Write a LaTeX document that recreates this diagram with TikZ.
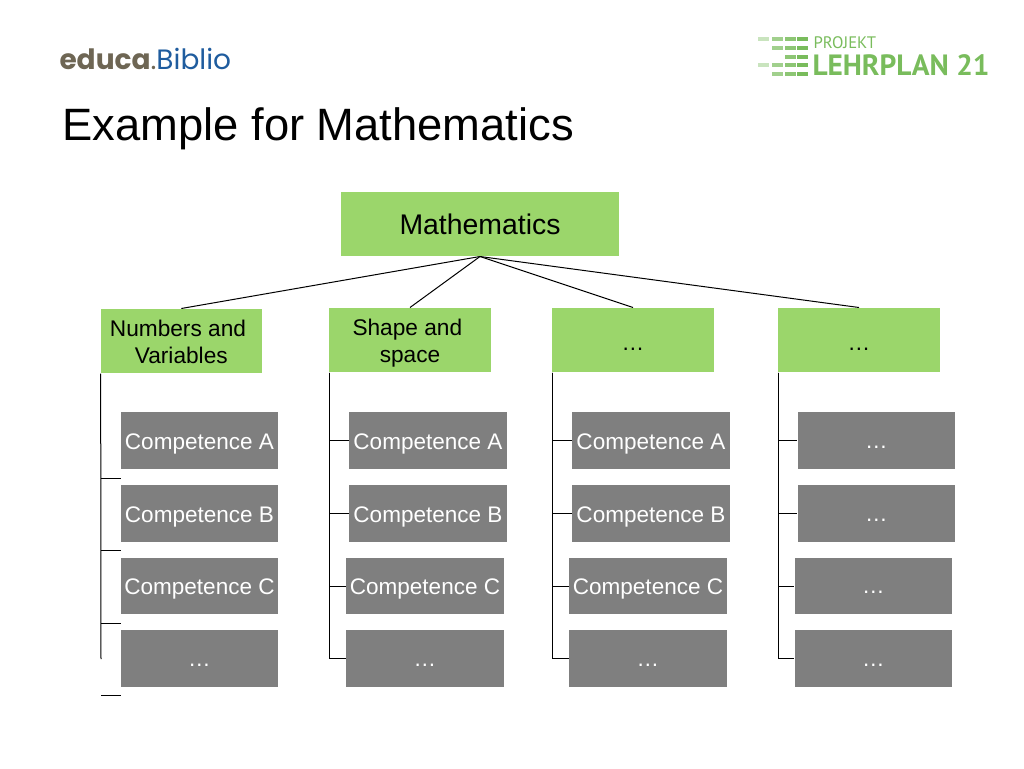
\documentclass[tikz,border=0pt]{standalone}
\usepackage{fontspec}
\setmainfont{Liberation Sans}
\newfontfamily\educafont{Poppins}
\newfontfamily\planfont{PT Sans}
\usepackage{xcolor}
\usetikzlibrary{positioning}
\definecolor{topicgreen}{HTML}{9BD66B}
\definecolor{compgray}{HTML}{7F7F7F}
\definecolor{logogreen}{HTML}{79BC5C}
\definecolor{logobrown}{HTML}{6E6654}
\definecolor{logoblue}{HTML}{1F5C9E}
\newcommand{\lowdots}[1]{\raisebox{-#1}[0pt][0pt]{…}}

\begin{document}
\begin{tikzpicture}[
		x=0.75pt,y=-0.75pt,
		line width=0.75pt,
		topic/.style={fill=topicgreen,minimum width=121pt,minimum height=48pt,inner sep=0pt,align=center,font=\fontsize{17}{20.2}\selectfont},
		comp/.style={fill=compgray,text=white,minimum width=118pt,minimum height=42.5pt,inner sep=0pt,text height=14pt,text depth=0.9pt,font=\fontsize{16.9}{20}\selectfont},
		compdots/.style={comp,text height=0pt,text depth=0pt},
		bar/.style={fill=logogreen,minimum width=8.3pt,minimum height=3pt,inner sep=0pt}
		]
		\useasboundingbox (0,0) rectangle (1024,768);

		% header
		\node[anchor=west,inner sep=0pt,font=\fontsize{34}{40}\selectfont] (title) at (62,129) {Example for Mathematics};
		\node[anchor=west,inner sep=0pt,font=\educafont\fontsize{21}{24}\selectfont,text=logobrown] (educa) at (59,59) {\textbf{educa}.\textcolor{logoblue}{Biblio}};
		\foreach \r/\y/\cols in {a/39/1,b/48/2,c/56.5/3,d/65/1,e/74/2}{
			\foreach \c/\x/\o in {1/763.5/0.4,2/777.5/0.7,3/790.5/0.85,4/802.5/1}{
				\ifnum\c<\cols\relax\else
					\node[bar,fill opacity=\o] (bar\r\c) at (\x,\y) {};
				\fi
			}
		}
		\node[anchor=west,inner sep=0pt,text=logogreen,font=\planfont\fontsize{12.5}{14}\selectfont] (projekt) at (813,43) {PROJEKT};
		\node[anchor=west,inner sep=0pt,text=logogreen,font=\planfont\bfseries\fontsize{22}{24}\selectfont] (lehrplan) at (812,65) {LEHRPLAN 21};

		% topics
		\node[topic,minimum width=208.5pt] (math) at (480,224) {\fontsize{21.3}{24}\selectfont Mathematics};
		\node[topic] (numbers) at (181.3,341) {\rule{0pt}{16.7pt}\hspace*{-5pt}Numbers and\\Variables\vphantom{p}};
		\node[topic] (shape) at (410,340) {\rule{0pt}{16.7pt}\hspace*{-4pt}Shape and\\space};
		\node[topic] (dotsa) at (633,340) {\lowdots{7.75pt}};
		\node[topic] (dotsb) at (859,340) {\lowdots{7.75pt}};

		% competences
		\node[comp] (na) at (199.5,440.5) {Competence A};
		\node[comp] (nb) at (199.5,513.5) {Competence B};
		\node[comp] (nc) at (199.5,586) {Competence C};
		\node[compdots] (nd) at (199.5,658.5) {\lowdots{5.85pt}};
		\node[comp] (sa) at (428,440.5) {Competence A};
		\node[comp] (sb) at (428,513.5) {Competence B};
		\node[comp] (sc) at (425,586) {Competence C};
		\node[compdots] (sd) at (425,658.5) {\lowdots{5.85pt}};
		\node[comp] (ta) at (651,440.5) {Competence A};
		\node[comp] (tb) at (651,513.5) {Competence B};
		\node[comp] (tc) at (648,586) {Competence C};
		\node[compdots] (td) at (648,658.5) {\lowdots{5.85pt}};
		\node[compdots] (fa) at (876.5,440.5) {\lowdots{5.85pt}};
		\node[compdots] (fb) at (876.5,513.5) {\lowdots{5.85pt}};
		\node[compdots] (fc) at (873.5,586) {\lowdots{5.85pt}};
		\node[compdots] (fd) at (873.5,658.5) {\lowdots{5.85pt}};

		\coordinate (nstuba) at (121,478);
		\coordinate (nstubb) at (121,550);
		\coordinate (nstubc) at (121,623);
		\coordinate (nstubd) at (121,695);
		\coordinate (nfoot) at (101,695);
		\coordinate (nend) at (101,659);

		\draw (math.south) -- (numbers.north);
		\draw (math.south) -- (shape.north);
		\draw (math.south) -- (dotsa.north);
		\draw (math.south) -- (dotsb.north);

		\draw ([xshift=0.4pt]numbers.south west) -- (nend);
		\foreach \s in {a,b,c}{
			\draw (nend |- nstub\s) -- (nstub\s);
		}
		\draw (nfoot) -- (nstubd);
		\foreach \p/\q in {shape/s,dotsa/t,dotsb/f}{
			\foreach \s in {a,b,c,d}{
				\draw ([xshift=0.4pt]\p.south west) |- (\q\s.west);
			}
		}
	\end{tikzpicture}
\end{document}
